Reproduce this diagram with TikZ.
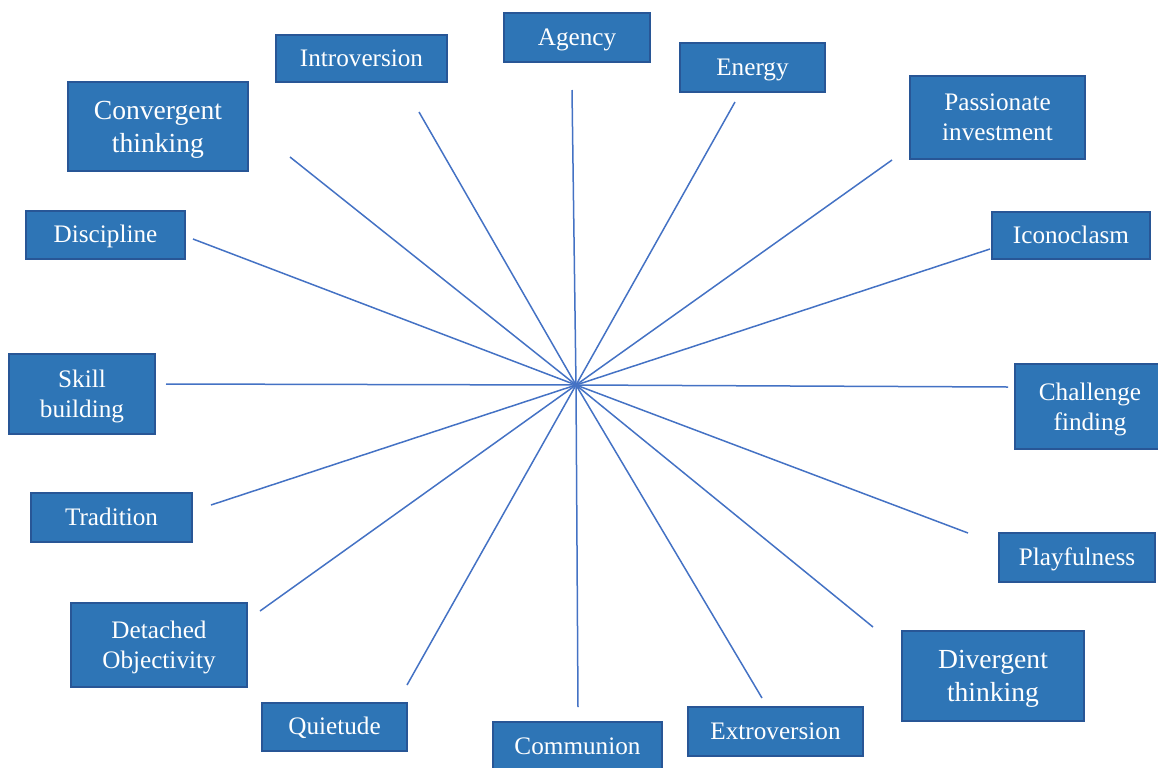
\documentclass[tikz,border=0pt]{standalone}
\usepackage{fontspec}
\setmainfont{Liberation Serif}
\definecolor{boxfill}{RGB}{46,117,182}
\definecolor{boxline}{RGB}{40,86,150}
\definecolor{spokeblue}{RGB}{68,114,196}

\begin{document}
\begin{tikzpicture}[
    x=0.5pt, y=-0.5pt,
    trait/.style={rectangle, draw=boxline, fill=boxfill, line width=0.9pt, text=white,
                  align=center, inner sep=0pt, font=\fontsize{12.6}{15}\selectfont},
    onetrait/.style={trait, text height=1em, text depth=0.25em},
    twotrait/.style={trait, text depth=0pt},
    bigtrait/.style={twotrait, font=\fontsize{13.8}{16.5}\selectfont},
    spoke/.style={draw=spokeblue, line width=0.75pt}
]
\clip (0,0) rectangle (1158,767);

% --- Centro ---
\coordinate (hub) at (576,385);

% --- Arriba ---
\node[onetrait, minimum width=73pt, minimum height=24.5pt] (agency) at (577,37.5) {Agency};
\node[onetrait, minimum width=85.5pt, minimum height=23.5pt] (introversion) at (361.5,58.5) {Introversion};
\node[onetrait, minimum width=72.5pt, minimum height=24.5pt] (energy) at (752.5,67.5) {Energy};
\node[bigtrait, minimum width=90pt, minimum height=44.5pt] (convergent) at (158,126.5) {Convergent\\thinking};
\node[twotrait, minimum width=87.5pt, minimum height=41.5pt] (passionate) at (997.5,117.5) {Passionate\\investment};

% --- Lados ---
\node[onetrait, minimum width=79.5pt, minimum height=24pt] (discipline) at (105.5,235) {Discipline};
\node[onetrait, minimum width=79pt, minimum height=23.5pt] (iconoclasm) at (1071,235.5) {Iconoclasm};
\node[twotrait, minimum width=73pt, minimum height=40pt] (skill) at (82,394) {Skill\\building};
\node[twotrait, minimum width=75pt, minimum height=42.5pt] (challenge) at (1090,406.5) {Challenge\\finding};
\node[onetrait, minimum width=80.5pt, minimum height=24.5pt] (tradition) at (111.5,517.5) {Tradition};
\node[onetrait, minimum width=78pt, minimum height=24.5pt] (playfulness) at (1077,557.5) {Playfulness};

% --- Abajo ---
\node[twotrait, minimum width=88pt, minimum height=42pt] (detached) at (159,645) {Detached\\Objectivity};
\node[bigtrait, minimum width=91pt, minimum height=45pt] (divergent) at (993,676) {Divergent\\thinking};
\node[onetrait, minimum width=72.5pt, minimum height=24pt] (quietude) at (334.5,727) {Quietude};
\node[onetrait, minimum width=84.5pt, minimum height=24.5pt] (communion) at (577.5,746.5) {Communion};
\node[onetrait, minimum width=87.5pt, minimum height=24.5pt] (extroversion) at (775.5,731.5) {Extroversion};

% --- Extremos de los rayos ---
\coordinate (agency-end) at (572,90);
\coordinate (introversion-end) at (419,112);
\coordinate (energy-end) at (735,102);
\coordinate (convergent-end) at (290,157);
\coordinate (passionate-end) at (892,160);
\coordinate (discipline-end) at (193,239);
\coordinate (iconoclasm-end) at (990,249);
\coordinate (skill-end) at (166,384);
\coordinate (challenge-end) at (1008,387);
\coordinate (tradition-end) at (211,505);
\coordinate (playfulness-end) at (968,533);
\coordinate (detached-end) at (260,611);
\coordinate (divergent-end) at (873,627);
\coordinate (quietude-end) at (407,685);
\coordinate (communion-end) at (578,707);
\coordinate (extroversion-end) at (762,698);

% --- Rayos ---
\draw[spoke] (hub) -- (agency-end);
\draw[spoke] (hub) -- (introversion-end);
\draw[spoke] (hub) -- (energy-end);
\draw[spoke] (hub) -- (convergent-end);
\draw[spoke] (hub) -- (passionate-end);
\draw[spoke] (hub) -- (discipline-end);
\draw[spoke] (hub) -- (iconoclasm-end);
\draw[spoke] (hub) -- (skill-end);
\draw[spoke] (hub) -- (challenge-end);
\draw[spoke] (hub) -- (tradition-end);
\draw[spoke] (hub) -- (playfulness-end);
\draw[spoke] (hub) -- (detached-end);
\draw[spoke] (hub) -- (divergent-end);
\draw[spoke] (hub) -- (quietude-end);
\draw[spoke] (hub) -- (communion-end);
\draw[spoke] (hub) -- (extroversion-end);

\end{tikzpicture}
\end{document}
